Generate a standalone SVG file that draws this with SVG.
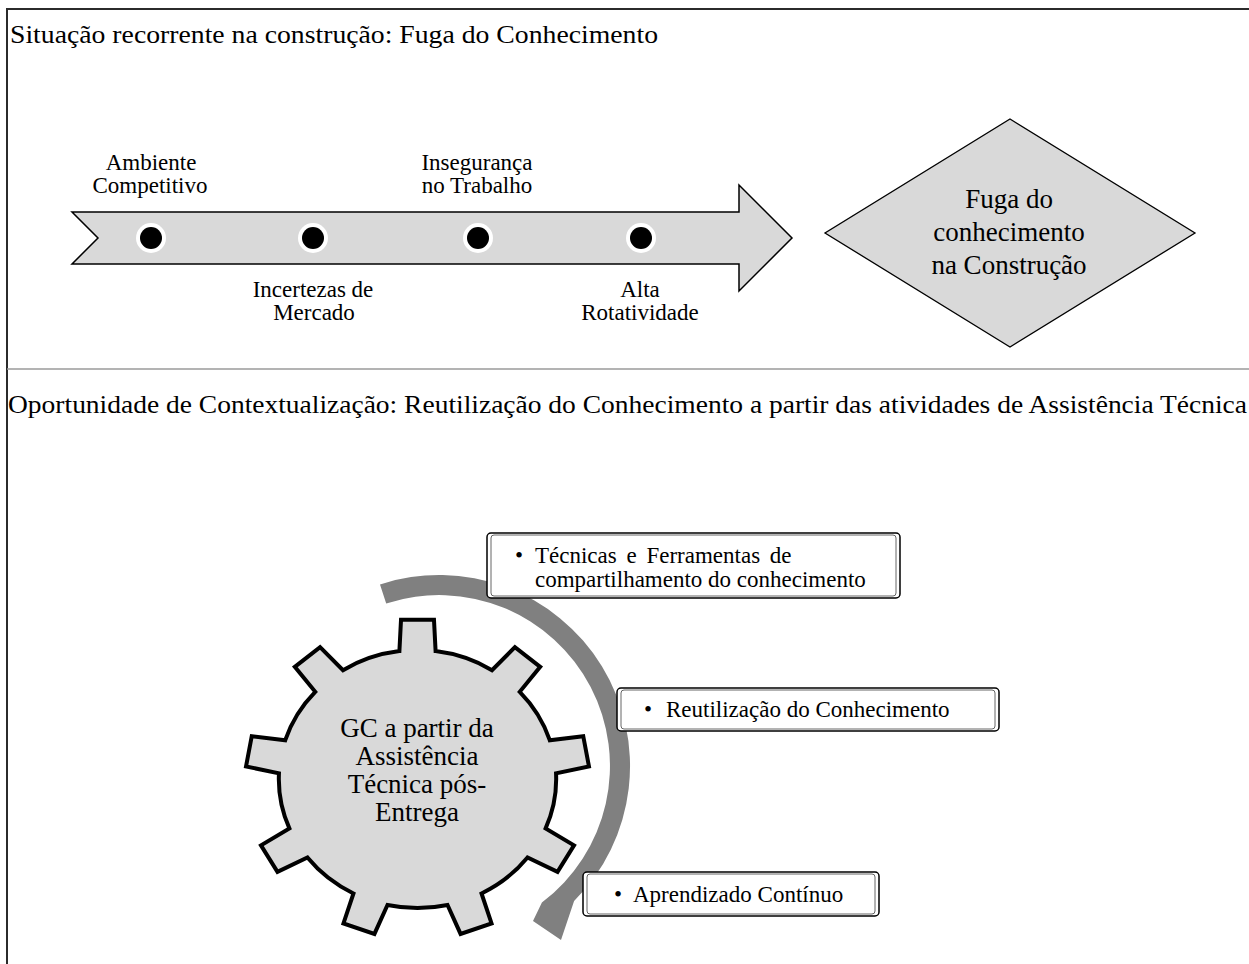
<svg xmlns="http://www.w3.org/2000/svg" width="1249" height="964" viewBox="0 0 1249 964">
  <style>
    .t { font-family: "Liberation Serif", "Times New Roman", serif; fill: #000; }
    .lbl { font-size: 23px; text-anchor: middle; }
    .dia { font-size: 27px; text-anchor: middle; }
    .gear-t { font-size: 27px; text-anchor: middle; }
    .box-t { font-size: 23px; }
    .shape { fill: #d9d9d9; stroke: #000; }
    .box-o { fill: #fff; stroke: #000; stroke-width: 1.5; }
    .box-i { fill: none; stroke: #555; stroke-width: 0.9; }
  </style>

  <!-- frame and section divider -->
  <g id="frame">
    <rect x="7" y="9" width="1262" height="975" fill="#fff" stroke="#2b2b2b" stroke-width="2"/>
    <line x1="7" y1="369" x2="1249" y2="369" stroke="#9a9a9a" stroke-width="1.6"/>
  </g>

  <!-- section headings -->
  <g id="headings">
    <text class="t" x="10" y="43" font-size="24.5" textLength="648" lengthAdjust="spacingAndGlyphs">Situação recorrente na construção: Fuga do Conhecimento</text>
    <text class="t" x="8" y="413" font-size="24.5" textLength="1239" lengthAdjust="spacingAndGlyphs">Oportunidade de Contextualização: Reutilização do Conhecimento a partir das atividades de Assistência Técnica</text>
  </g>

  <!-- timeline arrow with factors -->
  <g id="timeline">
    <path class="shape" stroke-width="1.5" d="M 72 212 L 739 212 L 739 185 L 792 238 L 739 291 L 739 264 L 72 264 L 98 238 Z"/>
    <g id="dots">
      <circle cx="151" cy="238" r="15" fill="#fff"/>
      <circle cx="151" cy="238" r="11" fill="#000"/>
      <circle cx="313" cy="238" r="15" fill="#fff"/>
      <circle cx="313" cy="238" r="11" fill="#000"/>
      <circle cx="478" cy="238" r="15" fill="#fff"/>
      <circle cx="478" cy="238" r="11" fill="#000"/>
      <circle cx="641" cy="238" r="15" fill="#fff"/>
      <circle cx="641" cy="238" r="11" fill="#000"/>
    </g>
    <g id="factor-ambiente">
      <text class="t lbl" x="151" y="170">Ambiente</text>
      <text class="t lbl" x="150" y="193">Competitivo</text>
    </g>
    <g id="factor-incertezas">
      <text class="t lbl" x="313" y="297">Incertezas de</text>
      <text class="t lbl" x="314" y="320">Mercado</text>
    </g>
    <g id="factor-inseguranca">
      <text class="t lbl" x="477" y="170">Insegurança</text>
      <text class="t lbl" x="477" y="193">no Trabalho</text>
    </g>
    <g id="factor-rotatividade">
      <text class="t lbl" x="640" y="297">Alta</text>
      <text class="t lbl" x="640" y="320">Rotatividade</text>
    </g>
  </g>

  <!-- outcome diamond -->
  <g id="fuga">
    <polygon class="shape" stroke-width="1.3" points="1010,119 1195,233 1010,347 825,233"/>
    <text class="t dia" x="1009" y="208">Fuga do</text>
    <text class="t dia" x="1009" y="241">conhecimento</text>
    <text class="t dia" x="1009" y="274">na Construção</text>
  </g>

  <!-- circular process arrow -->
  <g id="connectors">
    <path fill="#808080" d="M 380.0 584.4 A 191 191 0 0 1 574.1 901.1 L 561 940 L 533 921 L 541.9 902.6 A 171 171 0 0 0 386.2 603.4 Z"/>
  </g>

  <!-- central gear -->
  <g id="gear">
    <path transform="translate(417.5,779) scale(1.075,1)" class="shape" stroke-width="4" stroke-linejoin="miter" vector-effect="non-scaling-stroke"
      d="M -16.84 -127.89 L -15.33 -159.26 L 15.33 -159.26 L 16.84 -127.89
         A 129 129 0 0 1 69.31 -108.80 L 90.62 -131.86 L 114.13 -112.14 L 95.11 -87.15
         A 129 129 0 0 1 123.03 -38.79 L 154.18 -42.75 L 159.51 -12.55 L 128.88 -5.63
         A 129 129 0 0 1 119.18 49.37 L 145.60 66.35 L 130.26 92.91 L 102.35 78.54
         A 129 129 0 0 1 59.56 114.43 L 68.88 144.42 L 40.06 154.90 L 27.92 125.94
         A 129 129 0 0 1 -27.92 125.94 L -40.06 154.90 L -68.88 144.42 L -59.56 114.43
         A 129 129 0 0 1 -102.35 78.54 L -130.26 92.91 L -145.60 66.35 L -119.18 49.37
         A 129 129 0 0 1 -128.88 -5.63 L -159.51 -12.55 L -154.18 -42.75 L -123.03 -38.79
         A 129 129 0 0 1 -95.11 -87.15 L -114.13 -112.14 L -90.62 -131.86 L -69.31 -108.80
         A 129 129 0 0 1 -16.84 -127.89 Z"/>
    <text class="t gear-t" x="417" y="737">GC a partir da</text>
    <text class="t gear-t" x="417" y="765">Assistência</text>
    <text class="t gear-t" x="417" y="793">Técnica pós-</text>
    <text class="t gear-t" x="417" y="821">Entrega</text>
  </g>

  <!-- bullet boxes -->
  <g id="box-tecnicas">
    <rect class="box-o" x="487" y="533" width="413" height="65" rx="4"/>
    <rect class="box-i" x="491" y="535" width="405" height="61" rx="3"/>
    <text class="t box-t" x="515" y="563">•</text>
    <text class="t box-t" x="535" y="563" word-spacing="4">Técnicas e Ferramentas de</text>
    <text class="t box-t" x="535" y="587">compartilhamento do conhecimento</text>
  </g>
  <g id="box-reutilizacao">
    <rect class="box-o" x="617" y="688" width="382" height="43" rx="4"/>
    <rect class="box-i" x="621" y="690" width="374" height="39" rx="3"/>
    <text class="t box-t" x="644" y="717">•</text>
    <text class="t box-t" x="666" y="717">Reutilização do Conhecimento</text>
  </g>
  <g id="box-aprendizado">
    <rect class="box-o" x="583" y="872" width="296" height="44" rx="4"/>
    <rect class="box-i" x="587" y="874" width="288" height="40" rx="3"/>
    <text class="t box-t" x="614" y="902">•</text>
    <text class="t box-t" x="633" y="902">Aprendizado Contínuo</text>
  </g>
</svg>
